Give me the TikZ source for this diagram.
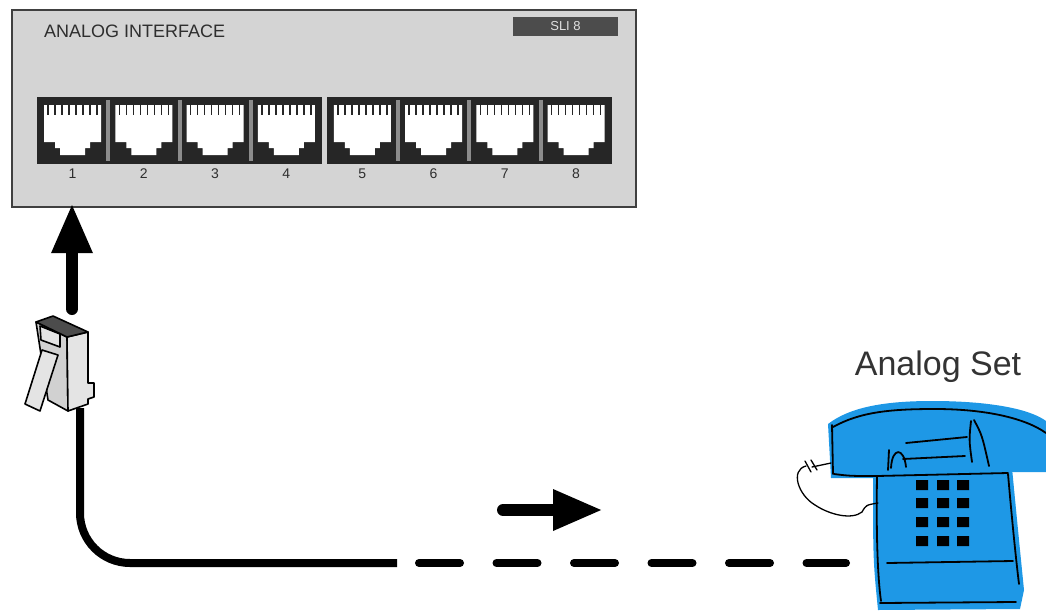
\documentclass[tikz,border=0pt]{standalone}
\usepackage{fontspec}
\setmainfont{Liberation Sans}
\usetikzlibrary{arrows.meta, positioning}

\definecolor{panelgray}{HTML}{D4D4D4}
\definecolor{panelline}{HTML}{404040}
\definecolor{portdark}{HTML}{262626}
\definecolor{portsep}{HTML}{8C8C8C}
\definecolor{labelgray}{HTML}{2E2E2E}
\definecolor{plugface}{HTML}{E4E4E4}
\definecolor{phoneblue}{RGB}{30,152,230}

\begin{document}
\begin{tikzpicture} [x = 1pt, y = -1pt, node distance = 71.25pt, on grid,
  panel/.style = {draw = panelline, line width = 2.4pt, fill = panelgray,
    minimum width = 624pt, minimum height = 197pt, inner sep = 0pt},
  paneltext/.style = {text = labelgray, font = \fontsize{18}{18}\selectfont, inner sep = 0pt},
  slotlabel/.style = {fill = black!70, text = black!12, font = \fontsize{13}{13}\selectfont,
    minimum width = 105pt, minimum height = 19pt, inner sep = 0pt},
  portnum/.style = {text = labelgray, font = \fontsize{14}{14}\selectfont, inner sep = 0pt,
    text height = 10pt, text depth = 0pt},
  jack/.style = {minimum width = 71.25pt, minimum height = 67pt, inner sep = 0pt, fill = portdark,
    path picture = {
      \fill [white] ([shift = {(-28.5,-25.5)}] path picture bounding box.center)
        -- ++(57,0) -- ++(0,37) -- ++(-11,0) -- ++(0,6) -- ++(-5,0) -- ++(0,7)
        -- ++(-25,0) -- ++(0,-7) -- ++(-5,0) -- ++(0,-6) -- ++(-11,0) -- cycle;
      \draw [portdark, line width = 1.6pt] ([shift = {(-24.5,-25.5)}] path picture bounding box.center)
        -- ++(0,10) ++(7,-10) -- ++(0,10) ++(7,-10) -- ++(0,10) ++(7,-10) -- ++(0,10)
        ++(7,-10) -- ++(0,10) ++(7,-10) -- ++(0,10) ++(7,-10) -- ++(0,10) ++(7,-10) -- ++(0,10);
    }},
  portgap/.style = {portsep, line width = 4pt},
  flowarrow/.style = {line width = 12pt, line cap = round, -{Triangle[width = 38pt, length = 50pt]}},
  cable/.style = {line width = 8pt, rounded corners = 50pt},
  cablelink/.style = {line width = 8pt, line cap = round, dash pattern = on 41pt off 36.5pt},
  plugline/.style = {line width = 1.6pt, line join = round},
  sketch/.style = {line width = 1.8pt, line cap = round},
  cord/.style = {line width = 1.3pt, line cap = round},
  settext/.style = {text = black!80, font = \fontsize{34}{34}\selectfont, inner sep = 0pt}]

\useasboundingbox (0,0) rectangle (1046,613);

% interface card
\node (panel) [panel] at (324,108.5) {};
\node (title) [paneltext, anchor = west] at (44,31) {ANALOG INTERFACE};
\node (slot) [slotlabel] at (565.5,26.5) {SLI 8};

% ports 1-4
\node (j1) [jack] at (72.6,130.5) {};
\node (j2) [jack, right = of j1] {};
\node (j3) [jack, right = of j2] {};
\node (j4) [jack, right = of j3] {};
% ports 5-8
\node (j5) [jack, right = 76pt of j4] {};
\node (j6) [jack, right = of j5] {};
\node (j7) [jack, right = of j6] {};
\node (j8) [jack, right = of j7] {};

\draw [portgap] ([yshift = -3pt] j1.north east) -- ([yshift = 3pt] j1.south east);
\draw [portgap] ([yshift = -3pt] j2.north east) -- ([yshift = 3pt] j2.south east);
\draw [portgap] ([yshift = -3pt] j3.north east) -- ([yshift = 3pt] j3.south east);
\draw [portgap] ([yshift = -3pt] j5.north east) -- ([yshift = 3pt] j5.south east);
\draw [portgap] ([yshift = -3pt] j6.north east) -- ([yshift = 3pt] j6.south east);
\draw [portgap] ([yshift = -3pt] j7.north east) -- ([yshift = 3pt] j7.south east);

\node (n1) [portnum, below = 43pt of j1] {1};
\node (n2) [portnum, below = 43pt of j2] {2};
\node (n3) [portnum, below = 43pt of j3] {3};
\node (n4) [portnum, below = 43pt of j4] {4};
\node (n5) [portnum, below = 43pt of j5] {5};
\node (n6) [portnum, below = 43pt of j6] {6};
\node (n7) [portnum, below = 43pt of j7] {7};
\node (n8) [portnum, below = 43pt of j8] {8};

% plug goes into port 1
\coordinate (plugtop) at (72,309);
\draw [flowarrow, shorten > = -5pt] (plugtop) -- (plugtop |- panel.south);

% RJ plug
\filldraw [plugline, fill = black!18] (36,322) -- (67,337) -- (68,411) -- (48,400) -- cycle;
\filldraw [plugline, fill = plugface] (67,337) -- (88,332) -- (88,383) -- (94,383) -- (94,397)
  -- (88,399) -- (88,404) -- (68,411) -- cycle;
\filldraw [plugline, fill = black!70] (36,322) -- (53,316) -- (88,332) -- (67,337) -- cycle;
\filldraw [plugline, fill = plugface] (40,326) -- (60,334) -- (60,347) -- (41,340) -- cycle;
\filldraw [plugline, fill = plugface] (42,350) -- (58,355) -- (40,411) -- (25,404) -- cycle;

% line cord, then the run to the set
\coordinate (plugtail) at (80,408);
\coordinate (cableend) at (397,563);
\draw [cable] (plugtail) |- (cableend);
\coordinate (dashstart) at (419,563);
\coordinate (setjack) at (846,563);
\draw [cablelink] (dashstart) -- (setjack);

\coordinate (dirtail) at (503,510);
\coordinate (dirhead) at (603,510);
\draw [flowarrow] (dirtail) -- (dirhead);

% telephone set
\node (setname) [settext, anchor = base] at (938,375) {Analog Set};

\fill [phoneblue] (873,470) -- (1012,468) .. controls (1018,530) .. (1024,590) -- (1020,609)
  -- (878,610) .. controls (873,560) .. (873,470) -- cycle;
\fill [phoneblue] (828,424) .. controls (850,407) and (885,401) .. (932,401)
  .. controls (990,401) and (1030,409) .. (1046,421) -- (1046,472) -- (1000,472)
  -- (877,478) -- (831,478) -- cycle;

\draw [sketch] (877,476) .. controls (876,540) and (878,580) .. (881,601);
\draw [sketch] (880,603) -- (1016,602);
\draw [sketch] (1008,474) .. controls (1012,520) and (1016,560) .. (1019,584);
\draw [sketch] (887,563) -- (1013,561);

\draw [sketch] (833,427) .. controls (860,412) and (890,409) .. (935,409)
  .. controls (985,409) and (1025,418) .. (1046,433);
\draw [sketch] (832,425) -- (833,474);
\draw [sketch] (834,474) .. controls (850,476) .. (877,476) -- (1008,473);

\draw [sketch] (971,421) .. controls (969,440) .. (972,462);
\draw [sketch] (974,420) .. controls (982,435) .. (989,466);
\draw [sketch] (906,443) -- (967,437);
\draw [sketch] (903,459) -- (965,456);
\draw [sketch] (888,470) -- (889,450);
\draw [sketch] (891,468) .. controls (892,447) and (904,447) .. (906,467);

% keypad
\fill (916,480) rectangle ++(12,10) (937,480) rectangle ++(12,10) (957,480) rectangle ++(12,10);
\fill (916,498) rectangle ++(12,10) (937,498) rectangle ++(12,10) (957,498) rectangle ++(12,10);
\fill (916,517) rectangle ++(12,10) (937,517) rectangle ++(12,10) (957,517) rectangle ++(12,10);
\fill (916,536) rectangle ++(12,10) (937,536) rectangle ++(12,10) (957,536) rectangle ++(12,10);

% handset cord
\draw [cord] (831,463) -- (812,467);
\draw [cord] (805,461) -- (811,472) (811,460) -- (817,470);
\draw [cord] (806,466) .. controls (790,470) and (798,495) .. (815,505)
  .. controls (830,515) and (852,520) .. (862,512) .. controls (866,505) .. (878,503);

\end{tikzpicture}
\end{document}
